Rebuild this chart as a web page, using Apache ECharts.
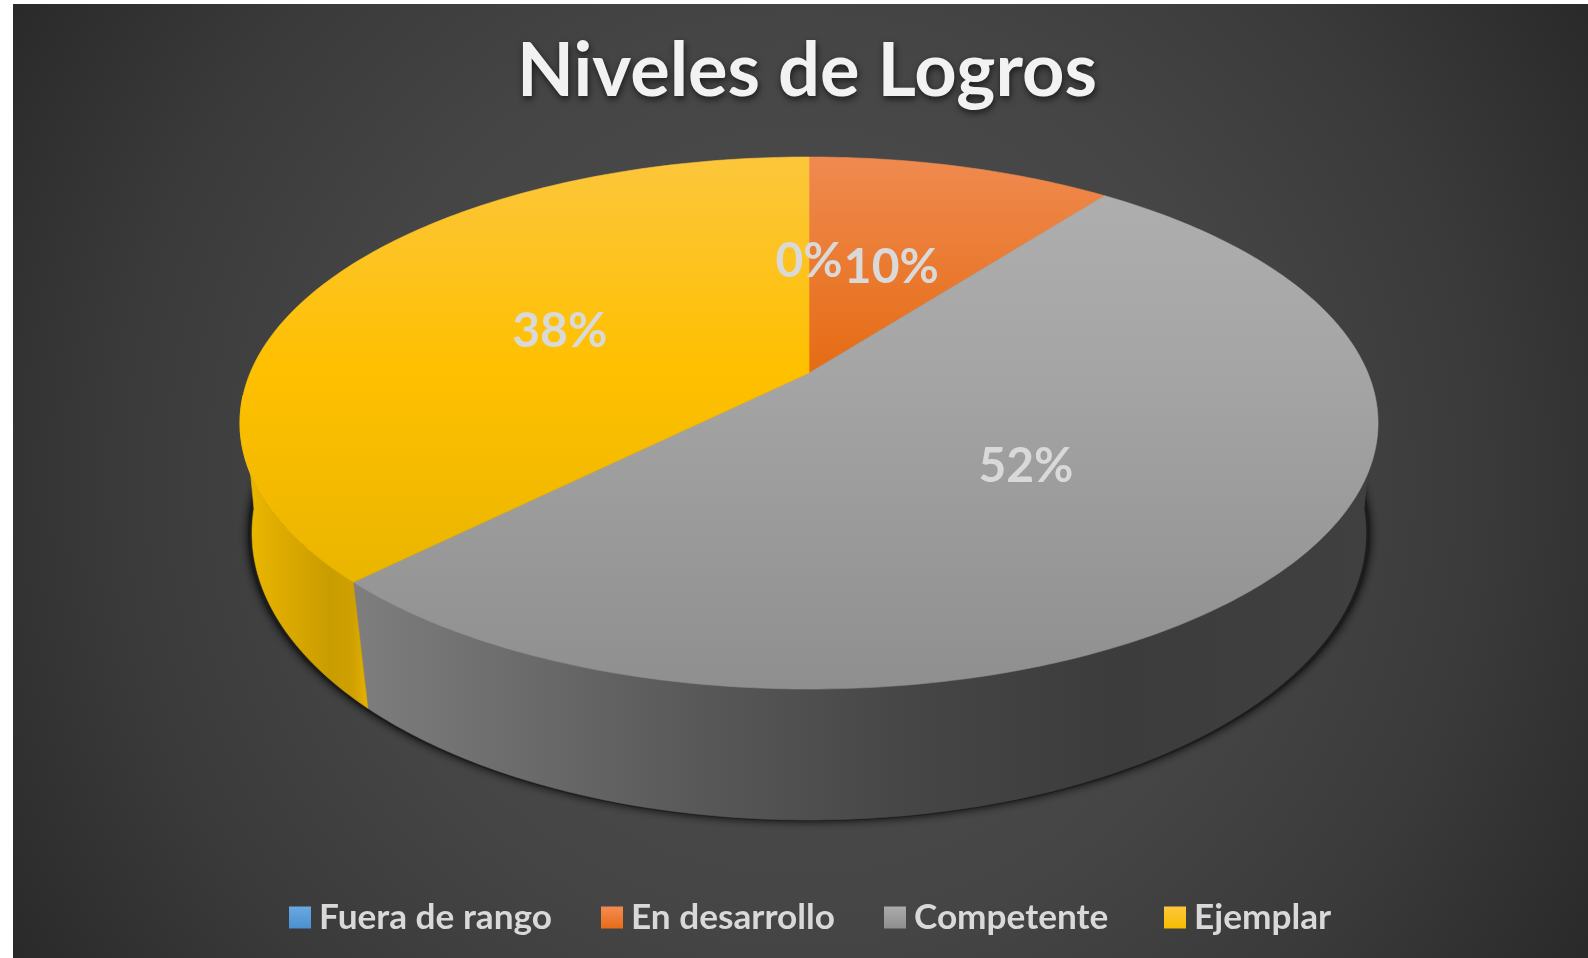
<!DOCTYPE html>
<html>
<head>
<meta charset="utf-8">
<style>html,body{margin:0;padding:0;background:#fff}#c{width:1588px;height:958px}</style>
<script src="https://cdn.jsdelivr.net/npm/echarts@6/dist/echarts.min.js"></script>
</head>
<body>
<div id="c"></div>
<script>
var chartTitle = 'Niveles de Logros';
var categories = ['Fuera de rango', 'En desarrollo', 'Competente', 'Ejemplar'];
var values = [0, 10.4, 52.1, 37.5];

var topColors = [
  ['#7db4e6', '#5b9bd5', '#4a8ac6'],
  ['#ef8a50', '#e66c14', '#d9640f'],
  ['#b0b0b0', '#a5a5a5', '#8f8f8f'],
  ['#fcc63c', '#ffc000', '#dfb000']
];
var legendColors = [
  ['#6aa9e2', '#4a90d0'],
  ['#f38c52', '#e86c18'],
  ['#ababab', '#8e8e8e'],
  ['#fdc83c', '#f8bc00']
];
var wallStops = [
  [[0, '#3f78ad'], [1, '#2c567c']],
  [[0, '#c0601f'], [1, '#8c4416']],
  [[0, '#7e7e7e'], [0.14, '#6e6e6e'], [0.34, '#585858'], [0.54, '#464646'], [0.74, '#3c3c3c'], [1, '#404040']],
  [[0, '#edba00'], [0.35, '#dcaa00'], [0.7, '#c99c00'], [0.88, '#cfa000'], [1, '#e6b200']]
];
var legendLeft = [289, 601, 884, 1164];
var labelRadius = [0.5, 0.5, 0.485, 0.5];

// perspective of the two rims: centre, half width, half height, foreshortening
var topRim = {cx: 809, cy: 373, b: 558.9, a: 256.6, k: 0.188};
var bottomRim = {cx: 809, cy: 484.2, b: 548.9, a: 278.7, k: 0.17};
var wallArc = [95 * Math.PI / 180, 265 * Math.PI / 180];

function project(rim, theta, f) {
  var u = Math.sin(theta) * f, v = -Math.cos(theta) * f;
  var w = 1 - rim.k * v;
  return [rim.cx + rim.b * u / w, rim.cy + rim.a * v / w];
}
function arc(rim, from, to, steps) {
  var pts = [];
  for (var i = 0; i <= steps; i++) pts.push(project(rim, from + (to - from) * i / steps, 1));
  return pts;
}
function vGrad(c) {
  return {type: 'linear', x: 0, y: 157, x2: 0, y2: 689, global: true,
    colorStops: [{offset: 0, color: c[0]}, {offset: 0.4, color: c[1]}, {offset: 1, color: c[2]}]};
}
function hGrad(stops, x0, x1) {
  return {type: 'linear', x: x0, y: 0, x2: x1, y2: 0, global: true,
    colorStops: stops.map(function (s) { return {offset: s[0], color: s[1]}; })};
}

var total = values.reduce(function (s, v) { return s + v; }, 0);
var cumulative = 0;
var seriesList = categories.map(function (name, idx) {
  var start = cumulative;
  cumulative += values[idx];
  return {
    type: 'custom',
    name: name,
    coordinateSystem: 'none',
    silent: true,
    data: [[start / total, cumulative / total, values[idx] / total]],
    renderItem: function (params, api) {
      var a0 = api.value(0) * 2 * Math.PI, a1 = api.value(1) * 2 * Math.PI, share = api.value(2);
      var children = [];
      if (a1 > a0) {
        var steps = Math.max(8, Math.ceil((a1 - a0) * 60));
        var w0 = Math.max(a0, wallArc[0]), w1 = Math.min(a1, wallArc[1]);
        if (w1 > w0) {
          var wallSteps = Math.max(8, Math.ceil((w1 - w0) * 60));
          var wTop = arc(topRim, w0, w1, wallSteps);
          var wBot = arc(bottomRim, w0, w1, wallSteps).reverse();
          var xs = wTop.concat(wBot).map(function (p) { return p[0]; });
          var wallFill = hGrad(wallStops[idx], Math.min.apply(null, xs), Math.max.apply(null, xs));
          children.push({
            type: 'polygon', z2: 1,
            shape: {points: wTop.concat(wBot)},
            style: {fill: wallFill, stroke: wallFill, lineWidth: 0.6}
          });
        }
        var topPts = arc(topRim, a0, a1, steps);
        children.push({
          type: 'polygon', z2: 10,
          shape: {points: [[topRim.cx, topRim.cy]].concat(topPts)},
          style: {fill: vGrad(topColors[idx]), stroke: vGrad(topColors[idx]), lineWidth: 0.6}
        });
      }
      var pos = project(topRim, (a0 + a1) / 2, labelRadius[idx]);
      children.push({
        type: 'text', z2: 20,
        style: {
          x: pos[0], y: pos[1] + 6, text: Math.round(share * 100) + '%',
          fill: '#d9d9d9', font: 'bold 48px Lato, "Open Sans", sans-serif',
          textAlign: 'center', textVerticalAlign: 'middle', verticalAlign: 'middle'
        }
      });
      return {type: 'group', children: children};
    }
  };
});

var legends = categories.map(function (name, idx) {
  return {
    data: [{name: name, itemStyle: {color: {type: 'linear', x: 0, y: 0, x2: 0, y2: 1,
      colorStops: [{offset: 0, color: legendColors[idx][0]}, {offset: 1, color: legendColors[idx][1]}]}}}],
    left: legendLeft[idx], top: 900, orient: 'horizontal', icon: 'rect',
    itemWidth: 22, itemHeight: 22, itemGap: 9, padding: 0, selectedMode: false,
    textStyle: {color: '#d9d9d9', fontFamily: 'Lato, "Open Sans", sans-serif', fontWeight: 'bold', fontSize: 35.2,
      padding: [0, 0, 0, 3]}
  };
});

var chart = echarts.init(document.getElementById('c'), null, {renderer: 'canvas'});
chart.setOption({
  animation: false,
  backgroundColor: '#ffffff',
  title: {
    text: chartTitle, left: 802, top: 30, textAlign: 'center',
    textStyle: {color: '#f2f2f2', fontFamily: 'Lato, "Open Sans", sans-serif', fontWeight: 'bold', fontSize: 74,
      textShadowColor: 'rgba(0,0,0,0.65)', textShadowBlur: 7, textShadowOffsetX: 1, textShadowOffsetY: 3}
  },
  legend: legends,
  graphic: [
    {type: 'rect', z: -10, silent: true, shape: {x: 13, y: 4, width: 1575, height: 954},
      style: {fill: {type: 'radial', x: 800, y: 480, r: 915, global: true,
        colorStops: [{offset: 0, color: '#505050'}, {offset: 0.5, color: '#454545'}, {offset: 0.75, color: '#3a3a3a'}, {offset: 1, color: '#2a2a2a'}]}}},
    {type: 'ellipse', z: -5, silent: true, shape: {cx: 809, cy: 534, rx: 561, ry: 287},
      style: {fill: '#1c1c1c', shadowColor: 'rgba(0,0,0,0.9)', shadowBlur: 10, shadowOffsetX: 0, shadowOffsetY: 0}}
  ],
  series: seriesList
});
</script>
</body>
</html>
